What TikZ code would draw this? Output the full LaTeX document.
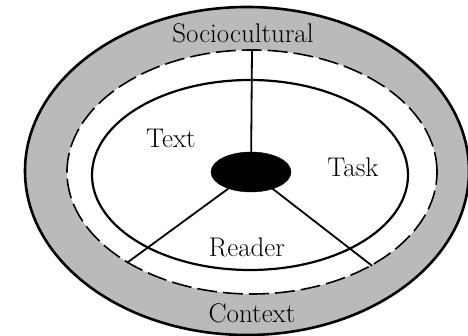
\documentclass[tikz,border=0pt]{standalone}
\usepackage{tikz}
\usetikzlibrary{shapes.geometric}

\begin{document}
\begin{tikzpicture}[
  x=1pt, y=1pt,
  every node/.style={font=\fontsize{27}{31}\selectfont},
  ring/.style={draw, ellipse, inner sep=0pt},
  spoke/.style={line width=1.8pt},
]
  \useasboundingbox (0,0) rectangle (468,336);

  \node[ring, line width=2.6pt, fill=black!27,
        minimum width=444pt, minimum height=328pt] (outer) at (247,165) {};
  \node[ring, dash pattern=on 20pt off 6pt, line width=1.6pt, fill=white,
        minimum width=370pt, minimum height=244pt] (ctx) at (252,164) {};
  \node[ring, line width=2.2pt,
        minimum width=316pt, minimum height=190pt] (inner) at (250,161) {};

  \node[ring, fill=black, minimum width=80pt, minimum height=40pt] (hub) at (251,164) {};

  \draw[spoke] (hub.center) -- (ctx.90);
  \draw[spoke] (hub.center) -- (ctx.216);
  \draw[spoke] (hub.center) -- (ctx.322);

  \node (socio) at (243,303) {Sociocultural};
  \node (text) at (171,198) {Text};
  \node (task) at (353,169) {Task};
  \node (reader) at (247,89) {Reader};
  \node (context) at (252,23) {Context};
\end{tikzpicture}
\end{document}
